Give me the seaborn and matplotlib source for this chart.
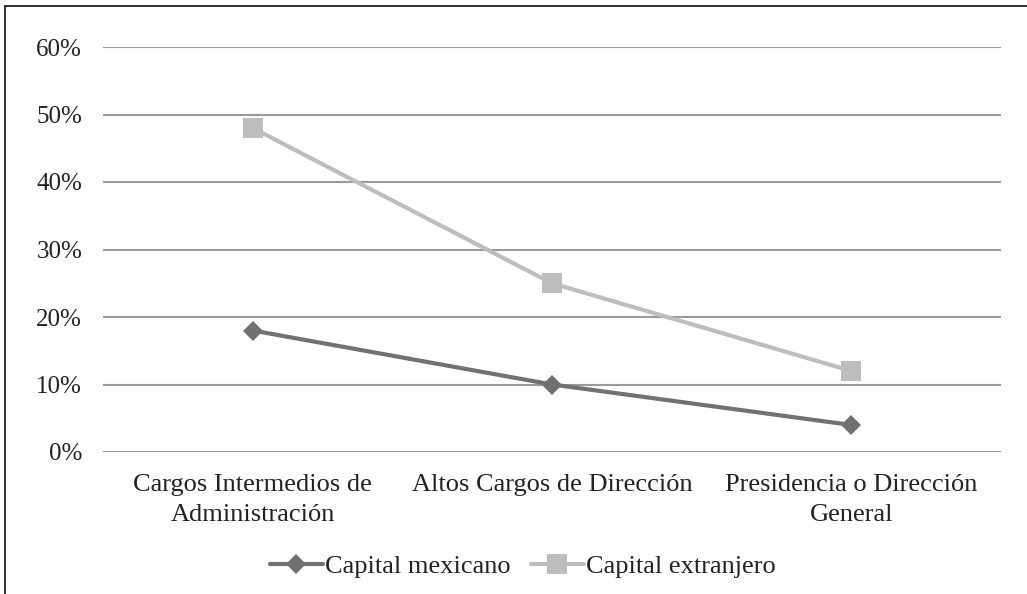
import matplotlib
matplotlib.use("Agg")
import matplotlib.pyplot as plt
import seaborn as sns
import pandas as pd
from matplotlib.lines import Line2D
from matplotlib.ticker import FuncFormatter

categories = ["Cargos Intermedios de\nAdministración",
              "Altos Cargos de Dirección",
              "Presidencia o Dirección\nGeneral"]
series_names = ["Capital mexicano", "Capital extranjero"]
mexicano = [0.18, 0.10, 0.04]
extranjero = [0.48, 0.25, 0.12]
yticks = [0.0, 0.1, 0.2, 0.3, 0.4, 0.5, 0.6]

df = pd.DataFrame({
    "cat": categories * 2,
    "serie": [series_names[0]] * 3 + [series_names[1]] * 3,
    "val": mexicano + extranjero,
})

sns.set_theme(style="white")
plt.rcParams["font.family"] = ["Liberation Serif", "DejaVu Serif"]

colors = {"Capital mexicano": "#717171", "Capital extranjero": "#bdbdc0"}
markers = {"Capital mexicano": "D", "Capital extranjero": "s"}

fig = plt.figure(figsize=(10.27, 5.94), dpi=100)
ax = fig.add_axes([103/1027, 1-452/594, (1001-103)/1027, (452-47)/594])

sns.lineplot(data=df, x="cat", y="val", hue="serie", style="serie",
             palette=colors, markers=markers, dashes=False, sort=False,
             linewidth=3, markeredgewidth=0, ax=ax, legend=False, zorder=3)
for line in ax.get_lines():
    if line.get_marker() == "s":
        line.set_markersize(14)
    elif line.get_marker() == "D":
        line.set_markersize(10)

ax.set_xlim(-0.5, 2.5)
ax.set_ylim(0, 0.6)
ax.set_yticks(yticks)
ax.yaxis.set_major_formatter(FuncFormatter(lambda v, p: f"{v*100:.0f}%"))
ax.set_xticks(range(3))
ax.set_xticklabels(categories, fontsize=19, color="#222222", linespacing=1.45)
ax.tick_params(axis="y", labelsize=18, labelcolor="#222222", length=0, pad=15)
ax.tick_params(axis="x", length=0, pad=16)
ax.grid(axis="y", color="#9a9a9a", lw=1.5)
ax.grid(axis="x", visible=False)
for s in ax.spines.values():
    s.set_visible(False)
ax.set_xlabel("")
ax.set_ylabel("")

handles = [Line2D([], [], color=colors["Capital mexicano"], lw=3, marker="D", markersize=10, markeredgewidth=0),
           Line2D([], [], color=colors["Capital extranjero"], lw=3, marker="s", markersize=14, markeredgewidth=0)]
fig.legend(handles, series_names, loc="center", bbox_to_anchor=(523/1027, 1-566/594),
           ncol=2, frameon=False, fontsize=19, handlelength=2.0, handletextpad=0.1,
           columnspacing=0.75, labelcolor="#222222")

# border (top and left)
fig.add_artist(Line2D([5/1027, 5/1027], [0, 1-6/594], transform=fig.transFigure, color="#222222", lw=1.3))
fig.add_artist(Line2D([5/1027, 1], [1-6/594, 1-6/594], transform=fig.transFigure, color="#222222", lw=1.3))

fig.savefig("out.png", dpi=100)
